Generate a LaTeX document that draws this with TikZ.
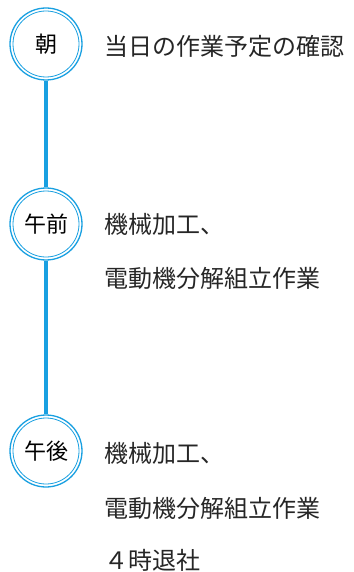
\documentclass[tikz,border=0pt]{standalone}
\usepackage{fontspec}
\setmainfont{Noto Sans CJK JP}
\definecolor{tlblue}{RGB}{25,160,225}
\begin{document}
\begin{tikzpicture}[x=1pt,y=-1pt,
  ring/.style={circle,minimum size=72pt,inner sep=0pt,draw=tlblue,line width=1.3pt,fill=white},
  innerring/.style={circle,minimum size=66pt,inner sep=0pt,draw=tlblue,line width=0.8pt,
    font=\fontsize{22}{22}\selectfont},
  label/.style={anchor=west,inner sep=0pt,font=\fontsize{24}{24}\selectfont,text=black!85},
  link/.style={draw=tlblue,line width=4pt}]
\useasboundingbox (0,0) rectangle (353,572);
\node[ring] (c1) at (46,44) {};
\node[ring] (c2) at (46,224) {};
\node[ring] (c3) at (46,451) {};
\draw[link] (c1.south) -- (c2.north);
\draw[link] (c2.south) -- (c3.north);
\node[innerring] (i1) at (c1) {朝};
\node[innerring] (i2) at (c2) {午前};
\node[innerring] (i3) at (c3) {午後};
\node[label] (t1) at (104,46) {当日の作業予定の確認};
\node[label] (t2) at (104,224) {機械加工、};
\node[label] (t3) at (104,278) {電動機分解組立作業};
\node[label] (t4) at (104,453) {機械加工、};
\node[label] (t5) at (104,508) {電動機分解組立作業};
\node[label] (t6) at (104,560) {４時退社};
\end{tikzpicture}
\end{document}
